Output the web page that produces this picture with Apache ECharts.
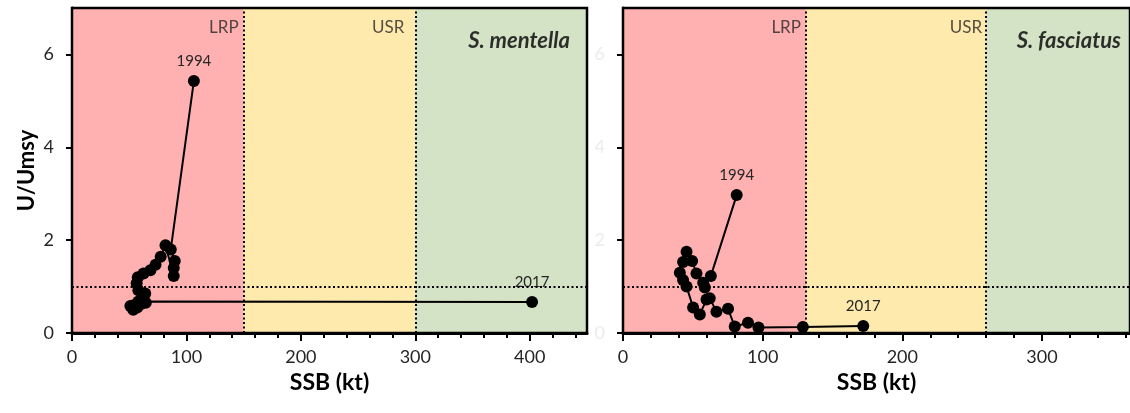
<!DOCTYPE html>
<html>
<head>
<meta charset="utf-8">
<script src="https://cdn.jsdelivr.net/npm/echarts@6/dist/echarts.min.js"></script>
<style>html,body{margin:0;padding:0;background:#fff}#c{width:1130px;height:413px}</style>
</head>
<body>
<div id="c"></div>
<script>
// ---- data ----
const firstYear = 1994, lastYear = 2017;
const mentellaSSB = [106.5, 86.3, 89.8, 88.9, 88.9, 81.7, 77.5, 73.0, 68.5, 62.5, 57.5, 56.5, 58.0, 64.0, 62.0, 58.0, 54.0, 51.0, 53.5, 57.0, 60.0, 63.0, 64.5, 402.0];
const mentellaU   = [5.43, 1.80, 1.55, 1.40, 1.23, 1.89, 1.64, 1.47, 1.35, 1.28, 1.20, 1.07, 0.92, 0.85, 0.75, 0.68, 0.60, 0.58, 0.50, 0.55, 0.62, 0.68, 0.65, 0.67];
const fasciatusSSB = [81.4, 62.9, 58.6, 57.4, 52.6, 49.5, 45.5, 43.0, 40.7, 43.0, 45.5, 50.2, 55.0, 59.8, 62.1, 66.9, 75.2, 80.0, 89.5, 97.0, 128.8, 172.0];
const fasciatusU   = [2.97, 1.23, 0.98, 1.08, 1.28, 1.55, 1.75, 1.53, 1.30, 1.14, 1.00, 0.55, 0.40, 0.72, 0.75, 0.46, 0.52, 0.14, 0.22, 0.12, 0.13, 0.15];
const mentellaRef  = {LRP: 150, USR: 300, xMax: 450, name: 'S. mentella'};
const fasciatusRef = {LRP: 131, USR: 260, xMax: 363, name: 'S. fasciatus'};
const yMax = 7, yTicks = [0, 2, 4, 6], uRef = 1;
const xMajorL = [0, 100, 200, 300, 400], xMajorR = [0, 100, 200, 300];

// ---- chart ----
const FONT = 'Lato';
function range(max, step){ const a=[]; for(let v=0; v<=max+1e-9; v+=step) a.push(v); return a; }
const chart = echarts.init(document.getElementById('c'), null, {renderer:'canvas'});
const grids = [
  {left: 72, top: 8, width: 515, height: 325},
  {left: 623, top: 8, width: 512, height: 325}
];
const refs = [mentellaRef, fasciatusRef];
const majors = [xMajorL, xMajorR];
const xs = [mentellaSSB, fasciatusSSB], ys = [mentellaU, fasciatusU];

const gridOpt = grids.map(g => Object.assign({show: true, borderColor: '#000', borderWidth: 2.5, backgroundColor: 'transparent', z: 10, containLabel: false}, g));
const xAxes = [], yAxes = [], series = [];
refs.forEach((r, i) => {
  xAxes.push({
    type: 'value', gridIndex: i, min: 0, max: r.xMax,
    name: 'SSB (kt)', nameLocation: 'middle', nameGap: 38,
    nameTextStyle: {fontFamily: FONT, fontWeight: 'bold', fontSize: 23, color: '#000'},
    axisLine: {show: true, onZero: false, lineStyle: {color: '#000', width: 3}},
    axisTick: {show: true, customValues: range(r.xMax - 1, 20), length: 5, lineStyle: {color: '#000', width: 2}},
    axisLabel: {customValues: majors[i], fontFamily: FONT, fontSize: 18, color: '#262626', margin: 15},
    splitLine: {show: false}
  });
  xAxes.push({
    type: 'value', gridIndex: i, min: 0, max: r.xMax, position: 'bottom',
    axisLine: {show: false},
    axisTick: {show: true, customValues: majors[i], length: 8, lineStyle: {color: '#000', width: 2}},
    axisLabel: {show: false}, splitLine: {show: false}
  });
  yAxes.push({
    type: 'value', gridIndex: i, min: 0, max: yMax,
    name: i === 0 ? 'U/Umsy' : '', nameLocation: 'middle', nameGap: 34,
    nameTextStyle: {fontFamily: FONT, fontWeight: 'bold', fontSize: 22, color: '#000'},
    axisLine: {show: true, onZero: false, lineStyle: {color: '#000', width: 3}},
    axisTick: {show: true, customValues: yTicks, length: 6, lineStyle: {color: '#000', width: 2}},
    axisLabel: {customValues: yTicks, fontFamily: FONT, fontSize: 18, color: i === 0 ? '#262626' : '#ececec', margin: 18},
    splitLine: {show: false}
  });
  const n = xs[i].length;
  series.push({
    type: 'line', xAxisIndex: 2 * i, yAxisIndex: i, z: 3,
    symbol: 'circle', symbolSize: 12, showAllSymbol: true,
    itemStyle: {color: '#000'}, lineStyle: {color: '#000', width: 2},
    data: xs[i].map((x, k) => {
      const item = {value: [x, ys[i][k]]};
      if (k === 0 || k === n - 1) {
        item.label = {show: true, position: 'top', distance: 6, formatter: String(k === 0 ? firstYear : lastYear),
          fontFamily: FONT, fontSize: 15, color: '#262626'};
      }
      return item;
    }),
    markArea: {silent: true, data: [
      [{xAxis: 0, itemStyle: {color: '#FFB0B0'}}, {xAxis: r.LRP}],
      [{xAxis: r.LRP, itemStyle: {color: '#FFEAAD'}}, {xAxis: r.USR}],
      [{xAxis: r.USR, itemStyle: {color: '#D4E3C6'}}, {xAxis: r.xMax}]
    ]},
    markLine: {silent: true, symbol: ['none', 'none'], label: {show: false},
      lineStyle: {color: '#000', width: 2, type: [2, 2.5]},
      data: [{xAxis: r.LRP}, {xAxis: r.USR}, {yAxis: uRef}]}
  });
  series.push({
    type: 'scatter', xAxisIndex: 2 * i, yAxisIndex: i, symbolSize: 0, z: 4, silent: true,
    data: [
      {value: [r.LRP, 6.58], label: {formatter: 'LRP', distance: 5}},
      {value: [r.USR, 6.58], label: {formatter: 'USR', distance: i === 0 ? 11 : 4}}
    ],
    label: {show: true, position: 'left', fontFamily: FONT, fontSize: 17, color: '#262626'}
  });
  series.push({
    type: 'scatter', xAxisIndex: 2 * i, yAxisIndex: i, symbolSize: 0, z: 4, silent: true,
    data: [{value: [r.xMax, 6.3], label: {formatter: r.name}}],
    label: {show: true, position: 'left', distance: i === 0 ? 17 : 9, fontFamily: FONT, fontSize: 22,
      fontWeight: 'bold', fontStyle: 'italic', color: '#000'}
  });
});

chart.setOption({
  animation: false,
  grid: gridOpt,
  xAxis: xAxes,
  yAxis: yAxes,
  series: series
});
</script>
</body>
</html>
